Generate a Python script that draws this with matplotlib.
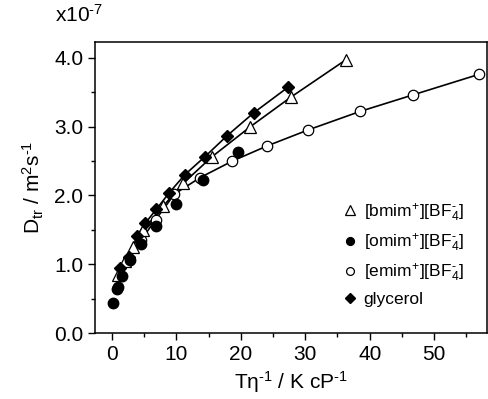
import matplotlib
matplotlib.use("Agg")
from matplotlib import pyplot as plt
from matplotlib.ticker import MultipleLocator

plt.rcParams["font.family"] = ["Liberation Sans", "DejaVu Sans"]
plt.rcParams["mathtext.fontset"] = "custom"
plt.rcParams["mathtext.rm"] = "Liberation Sans"
plt.rcParams["mathtext.it"] = "Liberation Sans:italic"

# D_tr values in units of 1e-7 m^2 s^-1, x = T/eta in K/cP
bmim_x = [1.0, 2.0, 3.2, 4.9, 8.0, 11.1, 15.5, 21.5, 27.8, 36.3]
bmim_y = [0.85, 1.05, 1.25, 1.50, 1.85, 2.18, 2.56, 3.00, 3.43, 3.97]

omim_x = [0.2, 0.8, 1.0, 1.6, 2.8, 4.5, 6.8, 10.0, 14.1, 19.5]
omim_y = [0.44, 0.64, 0.67, 0.83, 1.06, 1.29, 1.55, 1.88, 2.23, 2.63]

emim_x = [2.5, 4.5, 6.8, 9.7, 13.7, 18.7, 24.1, 30.4, 38.5, 46.7, 57.0]
emim_y = [1.05, 1.35, 1.65, 2.02, 2.26, 2.50, 2.72, 2.95, 3.22, 3.46, 3.76]

gly_x = [1.3, 2.6, 3.9, 5.2, 6.9, 8.9, 11.3, 14.4, 17.9, 22.0, 27.3]
gly_y = [0.94, 1.10, 1.41, 1.60, 1.80, 2.04, 2.30, 2.56, 2.87, 3.20, 3.57]

H = "\u2010"  # short hyphen for superscript minus signs

fig = plt.figure(figsize=(4.88, 3.99), dpi=100)
ax = fig.add_axes([0.195, 0.165, 0.803, 0.730])

ax.plot(emim_x, emim_y, "-", color="black", lw=1.2, zorder=2)
ax.plot(emim_x, emim_y, "o", ms=7.5, mfc="white", mec="black", mew=0.9, zorder=3,
        label="[emim$^{+}$][BF$_{4}^{" + H + "}$]")
ax.plot(bmim_x, bmim_y, "-", color="black", lw=1.2, zorder=2)
ax.plot(bmim_x, bmim_y, "^", ms=9, mfc="white", mec="black", mew=0.9, zorder=3,
        label="[bmim$^{+}$][BF$_{4}^{" + H + "}$]")
ax.plot(omim_x, omim_y, "o", ms=7.5, color="black", zorder=4,
        label="[omim$^{+}$][BF$_{4}^{" + H + "}$]")
ax.plot(gly_x, gly_y, "-", color="black", lw=1.2, zorder=2)
ax.plot(gly_x, gly_y, "D", ms=6.5, color="black", zorder=4, label="glycerol")

ax.set_xlim(-2.6, 58.2)
ax.set_ylim(0, 4.23)
ax.xaxis.set_major_locator(MultipleLocator(10))
ax.xaxis.set_minor_locator(MultipleLocator(5))
ax.yaxis.set_major_locator(MultipleLocator(1.0))
ax.yaxis.set_minor_locator(MultipleLocator(0.5))
ax.yaxis.set_major_formatter(plt.FormatStrFormatter("%.1f"))
ax.tick_params(which="both", direction="out", top=False, right=False, labelsize=15, width=1)
ax.tick_params(which="major", length=5)
ax.tick_params(which="minor", length=3)
for s in ax.spines.values():
    s.set_linewidth(1.1)

ax.set_xlabel("T\u03b7$^{" + H + "1}$ / K cP$^{" + H + "1}$", fontsize=15, labelpad=4)
ax.set_ylabel("D$_{\\mathrm{tr}}$ / m$^{2}$s$^{" + H + "1}$", fontsize=15, labelpad=6)
fig.text(0.112, 0.935, "x10$^{" + H + "7}$", fontsize=15, ha="left", va="bottom")

handles, labels = ax.get_legend_handles_labels()
order = [1, 2, 0, 3]
ax.legend([handles[i] for i in order], [labels[i] for i in order],
          loc="lower right", bbox_to_anchor=(0.98, 0.035), frameon=False,
          fontsize=12.5, markerscale=0.75, handlelength=0.8, handletextpad=0.4,
          labelspacing=0.45)

plt.savefig("out.png", dpi=100)
